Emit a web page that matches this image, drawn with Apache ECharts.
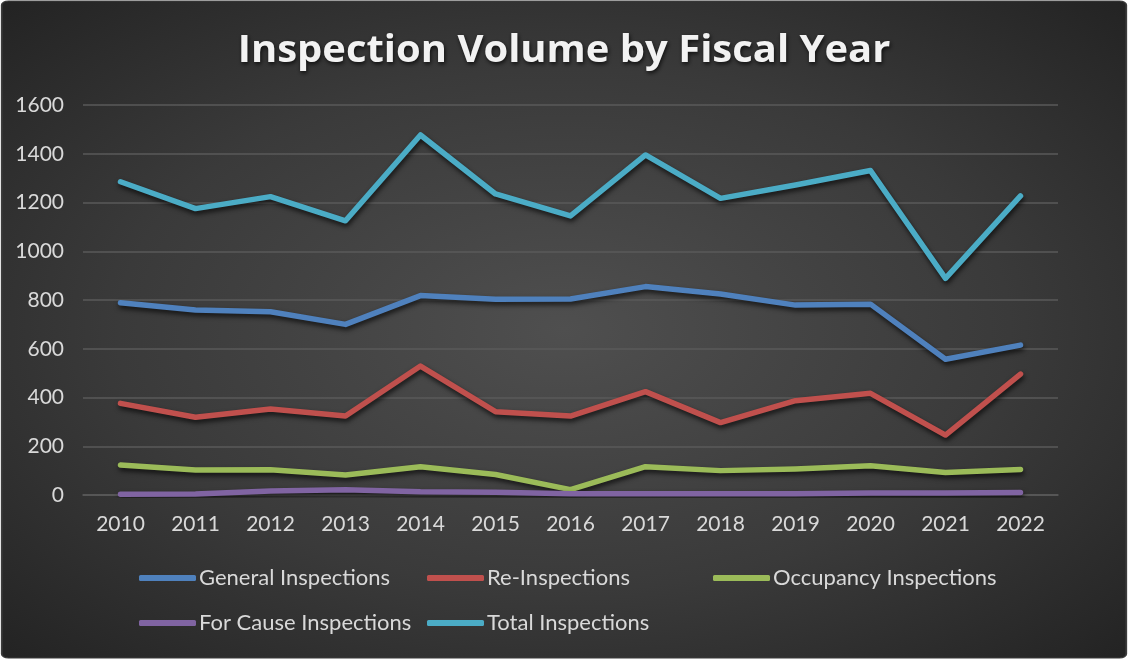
<!DOCTYPE html>
<html>
<head>
<meta charset="utf-8">
<title>Inspection Volume by Fiscal Year</title>
<script src="https://cdn.jsdelivr.net/npm/echarts@6/dist/echarts.min.js"></script>
<style>
  html, body { margin: 0; padding: 0; background: #ffffff; }
  #chart { width: 1128px; height: 659px; }
</style>
</head>
<body>
<div id="chart"></div>
<script>
// Fiscal years on the category axis
const years = ['2010','2011','2012','2013','2014','2015','2016','2017','2018','2019','2020','2021','2022'];

// Inspection counts per fiscal year
const generalInspections   = [789, 759, 752, 700, 818, 803, 804, 855, 825, 779, 783, 557, 615];
const reInspections        = [376, 319, 353, 324, 529, 342, 324, 424, 297, 387, 417, 246, 496];
const occupancyInspections = [123, 103, 104, 82, 116, 84, 22, 116, 100, 107, 120, 92, 105];
const forCauseInspections  = [3, 4, 16, 22, 13, 11, 5, 5, 5, 5, 8, 8, 10];
const totalInspections     = [1285, 1175, 1224, 1125, 1477, 1235, 1145, 1395, 1217, 1272, 1331, 889, 1227];

// Value axis ticks
const yTicks = { min: 0, max: 1600, interval: 200 };

const seriesDefs = [
  { name: 'General Inspections',   data: generalInspections,   color: '#4F81BD' },
  { name: 'Re-Inspections',        data: reInspections,        color: '#C0504D' },
  { name: 'Occupancy Inspections', data: occupancyInspections, color: '#9BBB59' },
  { name: 'For Cause Inspections', data: forCauseInspections,  color: '#8064A2' },
  { name: 'Total Inspections',     data: totalInspections,     color: '#4BACC6' }
];

const W = 1128, H = 659;
const font = 'Lato, "Open Sans", sans-serif';

// Legend laid out as a two-row grid of three columns
const legendSlots = [
  { left: 139, top: 567 },
  { left: 427, top: 567 },
  { left: 713, top: 567 },
  { left: 139, top: 612 },
  { left: 427, top: 612 }
];

const chart = echarts.init(document.getElementById('chart'), null, { renderer: 'canvas' });

const legends = seriesDefs.map((s, i) => ({
  orient: 'horizontal',
  left: legendSlots[i].left,
  top: legendSlots[i].top,
  padding: 0,
  itemWidth: 57,
  itemHeight: 6,
  itemGap: 0,
  icon: 'roundRect',
  selectedMode: false,
  data: [s.name],
  textStyle: { color: '#d9d9d9', fontSize: 22, fontFamily: font, padding: [0, 0, 0, -2] }
}));

chart.setOption({
  backgroundColor: 'transparent',
  animation: false,
  graphic: [
    {
      // Chart area with an elliptical dark radial shading
      type: 'rect',
      z: -100,
      silent: true,
      x: W / 2,
      y: H / 2,
      scaleX: W / H,
      shape: { x: -H / 2 + 1, y: -H / 2 + 1, width: H - 2, height: H - 2, r: 4 },
      style: {
        fill: {
          type: 'radial', x: 0.5, y: 0.5, r: 0.72,
          colorStops: [
            { offset: 0, color: '#4f4f4f' },
            { offset: 0.55, color: '#3a3a3a' },
            { offset: 1, color: '#222222' }
          ]
        },
        stroke: '#3c3c3c',
        lineWidth: 1
      }
    },
    {
      // Chart title, slightly widened
      type: 'text',
      z: 10,
      silent: true,
      x: W / 2,
      y: 51,
      scaleX: 1.08,
      style: {
        text: 'Inspection Volume by Fiscal Year',
        align: 'center',
        verticalAlign: 'middle',
        fill: '#f2f2f2',
        fontSize: 37,
        fontWeight: 'bold',
        fontFamily: '"Open Sans", Lato, sans-serif',
        textShadowColor: 'rgba(0,0,0,0.75)',
        textShadowBlur: 4,
        textShadowOffsetX: 1,
        textShadowOffsetY: 2
      }
    }
  ],
  legend: legends,
  grid: {
    left: 83,
    right: 70,
    top: 105,
    bottom: 164,
    containLabel: false
  },
  xAxis: {
    type: 'category',
    data: years,
    boundaryGap: true,
    axisLine: { show: true, lineStyle: { color: '#5a5a5a', width: 1.5 } },
    axisTick: { show: false },
    axisLabel: {
      color: '#d9d9d9',
      fontSize: 21,
      fontFamily: font,
      margin: 19
    }
  },
  yAxis: {
    type: 'value',
    min: yTicks.min,
    max: yTicks.max,
    interval: yTicks.interval,
    axisLine: { show: false },
    axisTick: { show: false },
    splitLine: { lineStyle: { color: '#5a5a5a', width: 1.5 } },
    axisLabel: {
      color: '#d9d9d9',
      fontSize: 21,
      fontFamily: font,
      margin: 19,
      formatter: v => String(v)
    }
  },
  series: seriesDefs.map(s => ({
    name: s.name,
    type: 'line',
    data: s.data,
    symbol: 'none',
    color: s.color,
    lineStyle: {
      color: s.color,
      width: 5.5,
      cap: 'round',
      join: 'round',
      shadowColor: 'rgba(0,0,0,0.7)',
      shadowBlur: 5,
      shadowOffsetX: 1,
      shadowOffsetY: 3
    },
    emphasis: { disabled: true }
  }))
});
</script>
</body>
</html>
